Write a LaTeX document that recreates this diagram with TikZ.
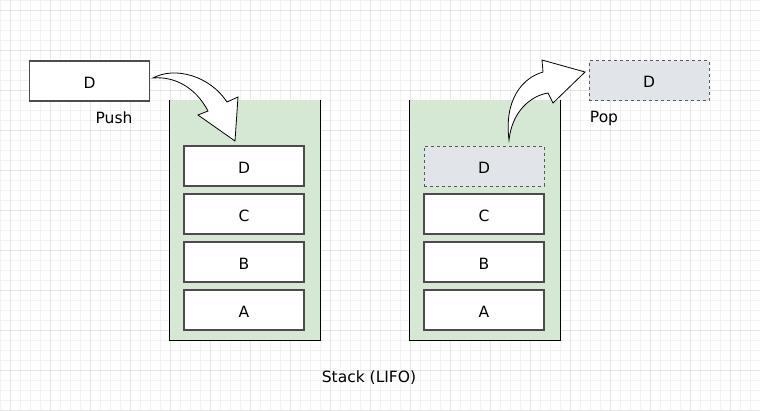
\documentclass[tikz,border=0pt]{standalone}
\usepackage{fontspec}
\setmainfont{DejaVu Sans}
\begin{document}
\begin{tikzpicture}[x=1pt,y=-1pt,
  minorgrid/.style={draw=black!5,line width=0.8pt},
  majorgrid/.style={draw=black!10,line width=0.8pt},
  item/.style={draw=black!70,line width=1.4pt,fill=white,minimum width=120pt,minimum height=40pt,inner sep=0pt,
     text height=14pt,text depth=0pt,font=\fontsize{15.5}{18}\selectfont},
  ghost/.style={item,draw=black!65,line width=1pt,dash pattern=on 3pt off 3pt,fill=popgray},
  stackbox/.style={fill=stackgreen,minimum width=150pt,minimum height=240pt,inner sep=0pt},
  label/.style={font=\fontsize{15.5}{18}\selectfont,inner sep=0pt},
  blockarrow/.style={draw=black,fill=white,line width=0.8pt,line join=miter}]
\definecolor{stackgreen}{HTML}{D5E8D4}
\definecolor{popgray}{HTML}{E1E4E8}
\useasboundingbox (0,0) rectangle (760,410);
\fill[white] (0,0) rectangle (760,410);
% grid
\foreach \x in {0,10,...,760} \draw[minorgrid] (\x,0) -- (\x,410);
\foreach \y in {0,10,...,410} \draw[minorgrid] (0,\y) -- (760,\y);
\foreach \x in {10,50,...,750} \draw[majorgrid] (\x,0) -- (\x,410);
\foreach \y in {10,50,...,410} \draw[majorgrid] (0,\y) -- (760,\y);
% stacks
\node[stackbox] (ls) at (245,220) {};
\node[stackbox] (rs) at (485,220) {};
\draw[line width=1pt] (ls.north west) -- (ls.south west) -- (ls.south east) -- (ls.north east);
\draw[line width=1pt] (rs.north west) -- (rs.south west) -- (rs.south east) -- (rs.north east);
% left stack items
\node[item] (ld) at (244,166) {D};
\node[item] (lc) at (244,214) {C};
\node[item] (lb) at (244,262) {B};
\node[item] (la) at (244,310) {A};
% right stack items
\node[ghost] (rd) at (484,166) {D};
\node[item] (rc) at (484,214) {C};
\node[item] (rb) at (484,262) {B};
\node[item] (ra) at (484,310) {A};
% outside boxes
\node[item] (pushd) at (89.5,81) {D};
\node[ghost] (popd) at (649,80.5) {D};
% labels
\node[label] (push) at (114,118) {Push};
\node[label] (pop) at (604,118.5) {Pop};
\node[label] (title) at (369,378) {Stack (LIFO)};
% push arrow
\coordinate (pa) at (153,78);
\coordinate (pb) at (227,102);
\coordinate (pc) at (238,97);
\coordinate (ptip) at (235,141);
\coordinate (pd) at (198,115);
\coordinate (pe) at (208,111);
\draw[blockarrow] (pa) .. controls (175,66) and (210,76) .. (pb) -- (pc) -- (ptip) -- (pd) -- (pe)
   .. controls (196,88) and (175,76) .. (pa) -- cycle;
% pop arrow
\coordinate (qa) at (509,140);
\coordinate (qb) at (543,72);
\coordinate (qc) at (542,60);
\coordinate (qtip) at (585,72);
\coordinate (qd) at (553,103);
\coordinate (qe) at (548,93);
\draw[blockarrow] (qa) .. controls (504,100) and (522,78) .. (qb) -- (qc) -- (qtip) -- (qd) -- (qe)
   .. controls (530,96) and (512,112) .. (qa) -- cycle;
\end{tikzpicture}
\end{document}
